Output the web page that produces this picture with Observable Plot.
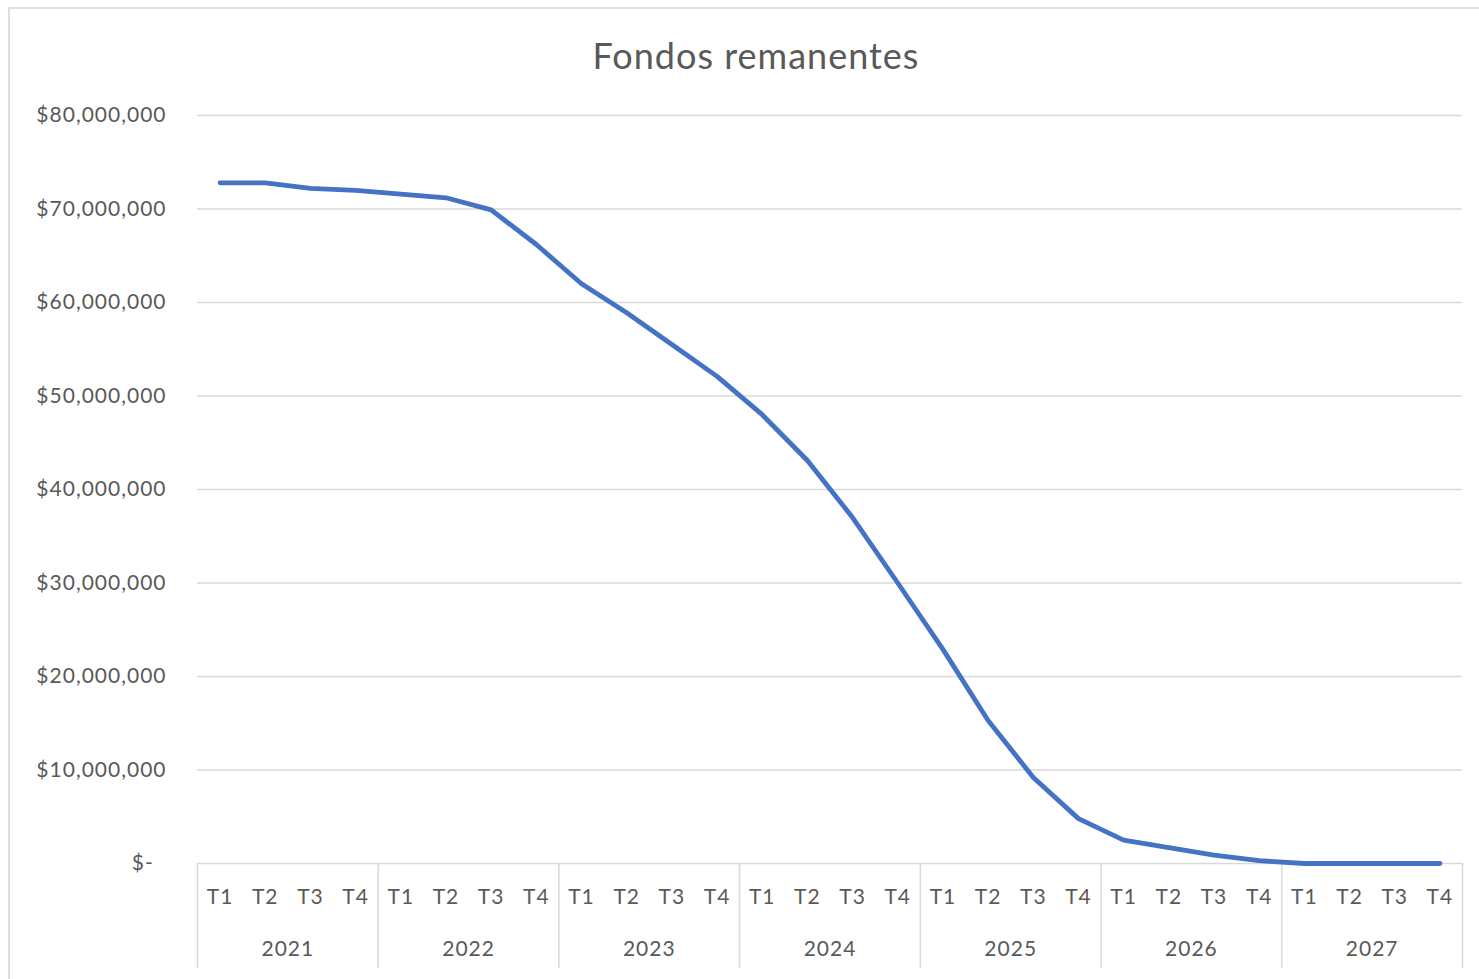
<!DOCTYPE html>
<html>
<head>
<meta charset="utf-8">
<script src="https://cdn.jsdelivr.net/npm/d3@7"></script>
<script src="https://cdn.jsdelivr.net/npm/@observablehq/plot@0.6"></script>
<style>
  body { margin: 0; background: #fff; overflow: hidden; width: 1479px; height: 979px; }
  #frame { position: absolute; left: 8px; top: 7px; width: 2000px; height: 2000px;
           border-left: 2px solid #dedede; border-top: 2px solid #dedede; }
  #title { position: absolute; left: 0; top: 34px; width: 1512px; text-align: center;
           font-family: Lato, "Open Sans", sans-serif; font-size: 36px; letter-spacing: 1px;
           line-height: 42px; color: #595959; }
  #chart { position: absolute; left: 0; top: 90px; }
</style>
</head>
<body>
<div id="frame"></div>
<div id="title">Fondos remanentes</div>
<div id="chart"></div>
<script>
const years = ["2021", "2022", "2023", "2024", "2025", "2026", "2027"];
const quarters = ["T1", "T2", "T3", "T4"];
const remaining = [
  72.8e6, 72.8e6, 72.2e6, 72.0e6,
  71.6e6, 71.2e6, 69.9e6, 66.2e6,
  62.0e6, 58.9e6, 55.5e6, 52.1e6,
  48.0e6, 43.1e6, 37.0e6, 30.0e6,
  22.9e6, 15.3e6, 9.2e6, 4.8e6,
  2.5e6, 1.7e6, 0.9e6, 0.3e6,
  0, 0, 0, 0
];
const yTicks = [0, 10e6, 20e6, 30e6, 40e6, 50e6, 60e6, 70e6, 80e6];

const data = remaining.map((v, i) => ({
  i,
  year: years[Math.floor(i / 4)],
  quarter: quarters[i % 4],
  value: v
}));
const yearCenters = years.map((y, k) => ({year: y, x: k * 4 + 1.5}));
const separators = d3.range(0, years.length + 1).map(k => k * 4 - 0.5);

const fmt = d => d === 0 ? "$-\u00A0\u00A0" : "$" + d3.format(",")(d);

const chart = Plot.plot({
  width: 1479,
  height: 889,
  marginLeft: 197,
  marginRight: 17,
  marginTop: 25,
  marginBottom: 116,
  style: {fontFamily: "Lato, 'Open Sans', sans-serif", fontSize: "21px", letterSpacing: "1px", color: "#595959", background: "transparent"},
  x: {type: "linear", domain: [-0.5, quarters.length * years.length - 0.5]},
  y: {domain: [0, 80e6]},
  marks: [
    Plot.ruleY(yTicks, {stroke: "#d9d9d9", strokeWidth: 1.5}),
    Plot.axisY(yTicks, {tickSize: 0, tickPadding: 31, tickFormat: fmt, fill: "#595959", fontSize: 21, label: null}),
    Plot.axisX(separators, {tickSize: 105, tickFormat: () => "", stroke: "#d9d9d9", strokeWidth: 1.5, label: null}),
    Plot.text(data, {x: "i", text: "quarter", frameAnchor: "bottom", dy: 34, lineAnchor: "middle", fill: "#595959", fontSize: 21}),
    Plot.text(yearCenters, {x: "x", text: "year", frameAnchor: "bottom", dy: 86, lineAnchor: "middle", fill: "#595959", fontSize: 21}),
    Plot.line(data, {x: "i", y: "value", stroke: "#4472C4", strokeWidth: 4.8, strokeLinejoin: "round", strokeLinecap: "round"})
  ]
});
document.getElementById("chart").appendChild(chart);
</script>
</body>
</html>
